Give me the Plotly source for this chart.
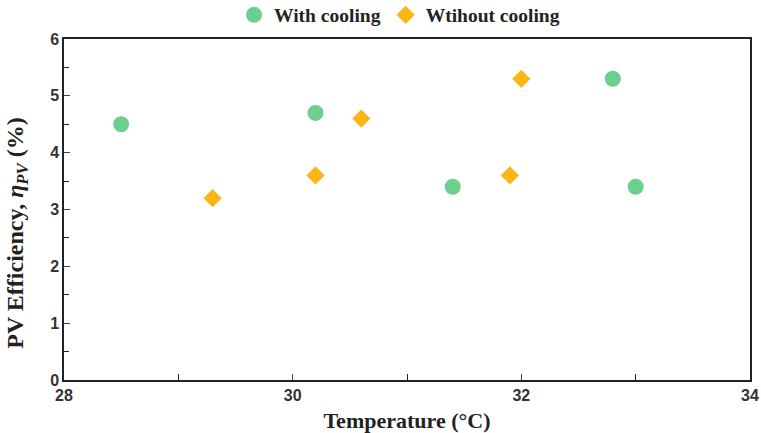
import plotly.graph_objects as go

with_x = [28.5, 30.2, 31.4, 32.8, 33.0]
with_y = [4.5, 4.7, 3.4, 5.3, 3.4]
without_x = [29.3, 30.2, 30.6, 31.9, 32.0]
without_y = [3.2, 3.6, 4.6, 3.6, 5.3]

fig = go.Figure()
fig.add_trace(go.Scatter(x=with_x, y=with_y, mode="markers", name="With cooling",
                         marker=dict(symbol="circle", size=16, color="#6ccf8e")))
fig.add_trace(go.Scatter(x=without_x, y=without_y, mode="markers", name="Wtihout cooling",
                         marker=dict(symbol="diamond", size=14, color="#fbb616")))

tickfont = dict(family="Liberation Sans, Arial", size=16, color="#333333", weight="bold")
serif = "Liberation Serif, Times New Roman"

fig.update_layout(
    width=761, height=433,
    margin=dict(l=64, r=11, t=39, b=53, autoexpand=False),
    plot_bgcolor="white", paper_bgcolor="white",
    showlegend=True,
    legend=dict(orientation="h", x=0.525, xanchor="center", xref="container",
                y=0.965, yanchor="middle", yref="container",
                bgcolor="rgba(0,0,0,0)",
                font=dict(family=serif, size=19.5, color="#222222", weight="bold"),
                itemwidth=30, tracegroupgap=0),
    xaxis=dict(range=[28, 34], tickvals=[28, 30, 32, 34], ticks="inside", ticklen=6,
               showline=True, linecolor="#222222", linewidth=1.5, mirror=True,
               showgrid=False, zeroline=False, tickfont=tickfont, automargin=False,
               ticklabeloverflow="allow",
               minor=dict(tickvals=[29, 31, 33], ticks="inside", ticklen=6, tickcolor="#222222"),
               title=dict(text="Temperature (°C)", font=dict(family=serif, size=22, color="#222222", weight="bold"), standoff=12)),
    yaxis=dict(range=[0, 6], tickvals=[0, 1, 2, 3, 4, 5, 6], ticks="inside", ticklen=6,
               showline=True, linecolor="#222222", linewidth=1.5, mirror=True,
               showgrid=False, zeroline=False, tickfont=tickfont, automargin=False,
               minor=dict(tickvals=[0.5, 1.5, 2.5, 3.5, 4.5, 5.5], ticks="inside", ticklen=5, tickcolor="#222222")),
    annotations=[dict(text="PV Efficiency, <i>η<sub>PV</sub></i> (%)", textangle=-90,
                      xref="paper", yref="paper", x=-0.068, y=0.43, xanchor="center", yanchor="middle",
                      showarrow=False,
                      font=dict(family=serif, size=24, color="#222222", weight="bold"))],
)

fig.write_html("out.html")
